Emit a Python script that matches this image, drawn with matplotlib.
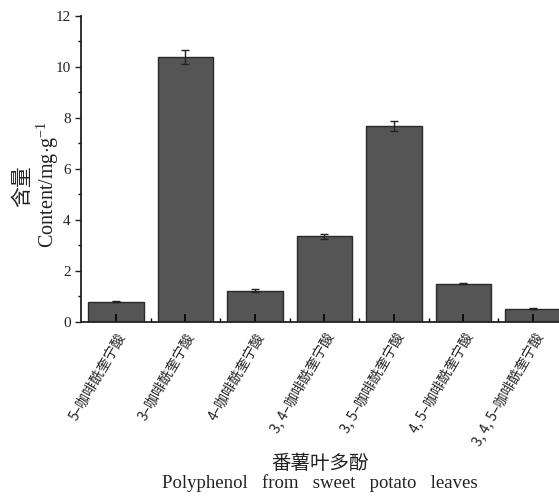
import matplotlib.pyplot as plt
import numpy as np

plt.rcParams['font.family'] = ['Liberation Serif', 'Noto Sans CJK SC']
plt.rcParams['mathtext.fontset'] = 'custom'
plt.rcParams['mathtext.rm'] = 'Liberation Serif'
plt.rcParams['mathtext.it'] = 'Liberation Serif:italic'

compounds = ['5–咖啡酰奎宁酸', '3–咖啡酰奎宁酸', '4–咖啡酰奎宁酸', '3, 4–咖啡酰奎宁酸',
             '3, 5–咖啡酰奎宁酸', '4, 5–咖啡酰奎宁酸', '3, 4, 5–咖啡酰奎宁酸']
content = [0.80, 10.38, 1.23, 3.35, 7.68, 1.50, 0.52]
errors = [0.03, 0.27, 0.05, 0.10, 0.19, 0.02, 0.03]

fig = plt.figure(figsize=(5.59, 4.96), dpi=100)
ax = fig.add_axes([0.145, 0.351, 0.855, 0.617])

x = np.arange(len(compounds))
ax.bar(x, content, width=0.8, color='#555555', edgecolor='#2a2a2a', linewidth=1.0,
       yerr=errors, capsize=3, error_kw=dict(ecolor='#222222', elinewidth=1.0, capthick=1.0))

ax.set_xlim(-0.5, 6.375)
ax.set_ylim(0, 12)
ax.set_yticks(range(0, 13, 2))
ax.set_yticks(range(1, 12, 2), minor=True)
ax.set_xticks(x)
ax.set_xticks(x[:-1] + 0.5, minor=True)
ax.set_xticklabels(compounds, rotation=60, ha='right', rotation_mode='anchor',
                   family=['Noto Sans CJK SC', 'Liberation Serif'], fontsize=10, color='#222222')
ax.tick_params(axis='y', which='major', direction='out', length=4, width=1, labelsize=11, colors='#222222')
ax.tick_params(axis='y', which='minor', direction='out', length=2, width=1)
ax.tick_params(axis='x', which='major', direction='in', length=6, width=1.2, pad=6)
ax.tick_params(axis='x', which='minor', direction='in', length=3, width=1)

for s in ['top', 'right']:
    ax.spines[s].set_visible(False)
for s in ['left', 'bottom']:
    ax.spines[s].set_linewidth(1.3)
    ax.spines[s].set_color('#222222')

fig.text(0.040, 0.625, '含量', rotation=90, ha='center', va='center',
         family=['Noto Sans CJK SC'], fontsize=15, color='#222222')
fig.text(0.086, 0.629, 'Content/mg$\\cdot$g$^{-1}$', rotation=90, ha='center', va='center',
         fontsize=14.5, color='#222222')
fig.text(0.573, 0.066, '番薯叶多酚', ha='center', va='center',
         family=['Noto Sans CJK SC'], fontsize=14, color='#222222')
fig.text(0.573, 0.026, 'Polyphenol   from   sweet   potato   leaves', ha='center', va='center',
         fontsize=13.5, color='#222222')

fig.savefig('out.png', dpi=100)
